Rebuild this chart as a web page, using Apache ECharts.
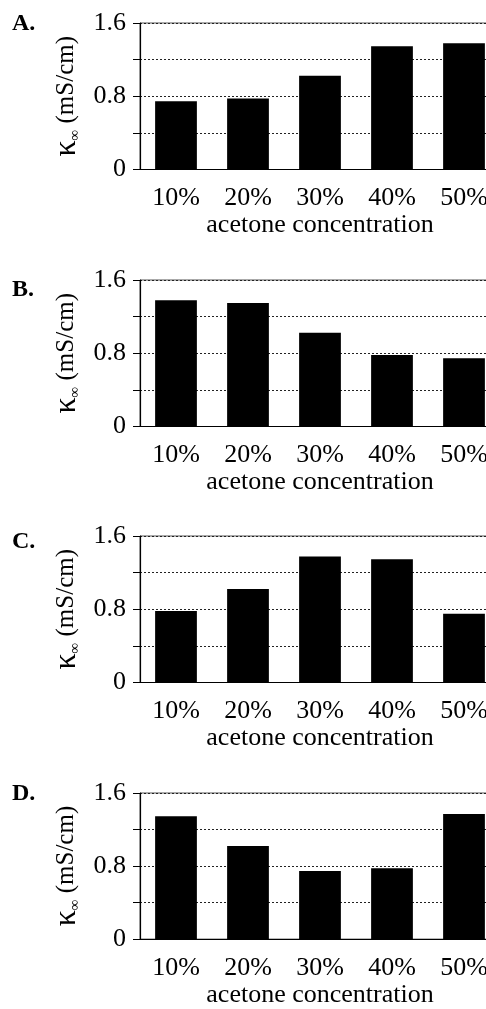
<!DOCTYPE html>
<html>
<head>
<meta charset="utf-8">
<script src="https://cdn.jsdelivr.net/npm/echarts@6/dist/echarts.min.js"></script>
<style>
  html, body { margin: 0; padding: 0; background: #fff; overflow: hidden; }
  /* wider than the window: the right frame of each panel falls off the picture, like the scan */
  #chart { width: 510px; height: 1009px; }
</style>
</head>
<body>
<div id="chart"></div>
<script>
const categories = ['10%', '20%', '30%', '40%', '50%'];
const panelLabels = ['A.', 'B.', 'C.', 'D.'];
const panelA = [0.745, 0.775, 1.025, 1.345, 1.38];
const panelB = [1.38, 1.35, 1.025, 0.78, 0.745];
const panelC = [0.78, 1.02, 1.375, 1.345, 0.75];
const panelD = [1.345, 1.02, 0.745, 0.775, 1.37];
const yShownLabels = ['0', '0.8', '1.6'];

const panels = [panelA, panelB, panelC, panelD];
const tops = [23, 280, 536, 793];
const font = '"Liberation Serif", "DejaVu Serif", serif';

const chart = echarts.init(document.getElementById('chart'));

const grids = tops.map(t => ({
  left: 140, top: t, width: 360, height: 146.5,
  show: true, borderColor: '#555', borderWidth: 1, backgroundColor: 'transparent'
}));

const xAxes = panels.map((_, i) => ({
  type: 'category', gridIndex: i, data: categories,
  axisLine: { lineStyle: { color: '#000', width: 1.2 } },
  axisTick: { alignWithLabel: true, length: 5, lineStyle: { color: '#000' } },
  axisLabel: { color: '#000', fontFamily: font, fontSize: 26, margin: 16 },
  name: 'acetone concentration', nameLocation: 'middle', nameGap: 40,
  nameTextStyle: { color: '#000', fontFamily: font, fontSize: 26 }
}));

const yAxes = panels.map((_, i) => ({
  type: 'value', gridIndex: i, min: 0, max: 1.6, interval: 0.4,
  axisLine: { show: true, lineStyle: { color: '#000', width: 1.2 } },
  axisTick: { show: true, length: 7, lineStyle: { color: '#000' } },
  axisLabel: {
    color: '#000', fontFamily: font, fontSize: 26, margin: 14,
    formatter: v => {
      const s = v === 0 ? '0' : v.toFixed(1);
      return yShownLabels.includes(s) ? s : '';
    }
  },
  splitLine: { show: true, lineStyle: { color: '#222', type: [2, 2], width: 1 } },
  name: '{k|κ}{s|∞} (mS/cm)', nameLocation: 'middle', nameGap: 57,
  nameTextStyle: {
    color: '#000', fontFamily: font, fontSize: 25,
    rich: {
      k: { fontFamily: font, fontSize: 32, color: '#000' },
      s: { fontFamily: font, fontSize: 15, color: '#000', verticalAlign: 'bottom', padding: [10, 0, 0, 0] }
    }
  }
}));

const series = panels.map((vals, i) => ({
  type: 'bar', xAxisIndex: i, yAxisIndex: i, data: vals,
  barWidth: '58%', itemStyle: { color: '#000' }, silent: true
}));

const graphic = panelLabels.map((txt, i) => ({
  type: 'text', left: 12, top: tops[i] - 11 + (i === 1 ? 9 : i === 2 ? 5 : 0),
  style: { text: txt, fontFamily: font, fontSize: 24, fontWeight: 'bold', fill: '#000' }
}));

chart.setOption({
  animation: false,
  backgroundColor: '#fff',
  grid: grids,
  xAxis: xAxes,
  yAxis: yAxes,
  series: series,
  graphic: graphic
});
</script>
</body>
</html>
